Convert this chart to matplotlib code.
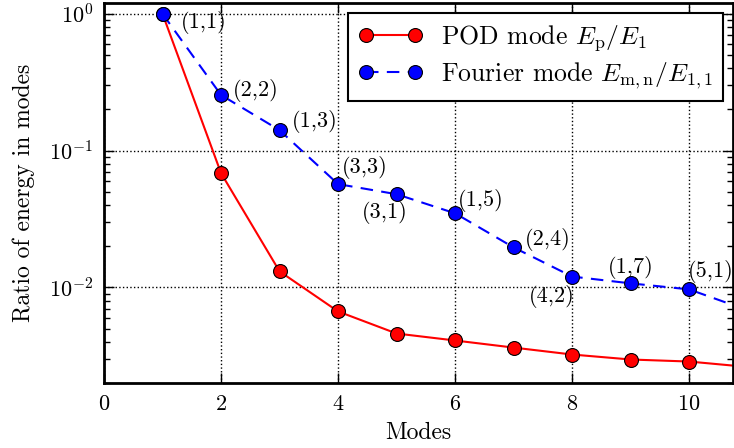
import numpy as np
import matplotlib
matplotlib.use("Agg")
import matplotlib.pyplot as plt

plt.rcParams['font.family'] = 'serif'
plt.rcParams['font.serif'] = ['cmr10', 'DejaVu Serif']
plt.rcParams['mathtext.fontset'] = 'cm'
plt.rcParams['axes.formatter.use_mathtext'] = True

modes = [1, 2, 3, 4, 5, 6, 7, 8, 9, 10, 11]
pod = [1.0, 0.0684, 0.0131, 0.00667, 0.0046, 0.00409, 0.00363, 0.00323, 0.00297, 0.00287, 0.00262]
fourier = [1.0, 0.255, 0.141, 0.0569, 0.048, 0.0348, 0.0196, 0.0120, 0.0107, 0.00967, 0.0068]
labels = ['(1,1)', '(2,2)', '(1,3)', '(3,3)', '(3,1)', '(1,5)', '(2,4)', '(4,2)', '(1,7)', '(5,1)']
# offsets of the labels from their points, in points
offsets = [(13, -6), (8.6, 3), (8.6, 6), (3, 12), (-25, -13.5), (2.2, 9.4),
           (8, 5.8), (-31.5, -14.4), (-16.6, 11.5), (-0.7, 13)]

fig = plt.figure(figsize=(7.34, 4.48), dpi=100)
ax = fig.add_axes([0.1417, 0.1451, 0.857, 0.8482])

ax.plot(modes, pod, 'o-', color='red', lw=1.5, ms=10, mfc='red', mec='black', mew=0.8,
        label=r'POD mode $E_{\rm p}/E_1$')
ax.plot(modes, fourier, 'o--', color='blue', lw=1.5, ms=10, mfc='blue', mec='black', mew=0.8,
        dashes=(6, 4), label=r'Fourier mode $E_{\rm m,n}/E_{1,1}$')

for i in range(len(labels)):
    ax.annotate(labels[i], (modes[i], fourier[i]), xytext=offsets[i], textcoords='offset points',
                fontsize=16, ha='left', va='center')

ax.set_yscale('log')
ax.set_xlim(0, 10.75)
ax.set_ylim(2e-3, 1.2)
ax.set_xticks([0, 2, 4, 6, 8, 10])
ax.grid(True, which='major', color='black', ls=':', lw=1)
ax.tick_params(which='both', direction='in', top=True, right=True, labelsize=16)
ax.tick_params(which='major', length=7, width=1, pad=8)
ax.tick_params(which='minor', length=4, width=1)
for s in ax.spines.values():
    s.set_linewidth(2)

ax.set_xlabel('Modes', fontsize=17, labelpad=6)
ax.set_ylabel('Ratio of energy in modes', fontsize=17, labelpad=10)

leg = ax.legend(loc='upper right', numpoints=2, fontsize=18.5, fancybox=False, framealpha=1,
                edgecolor='black', borderaxespad=0.4, handlelength=2.5, borderpad=0.4,
                labelspacing=0.25, handletextpad=0.7)
leg.get_frame().set_linewidth(1.5)

fig.savefig('out.png', dpi=100)
